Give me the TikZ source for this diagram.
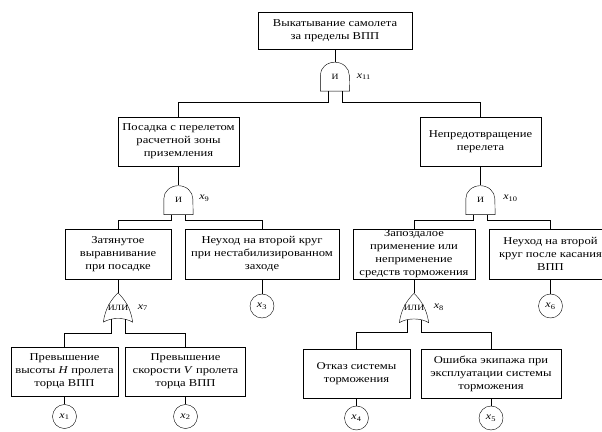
\documentclass[tikz,border=0pt]{standalone}
\usepackage{fontspec}
\setmainfont[FakeStretch=1.2]{Liberation Serif}
\usetikzlibrary{positioning}
\newcommand{\xv}[1]{\textit{x}\textsubscript{#1}}

\begin{document}
\begin{tikzpicture}[x=1pt,y=1pt,
	evt/.style={draw,rectangle,align=center,inner sep=1pt,minimum height=49pt,font=\fontsize{10.5}{13}\selectfont},
	gate/.style={minimum width=29pt,minimum height=29pt,inner sep=0pt,font=\fontsize{8}{9}\selectfont},
	leaf/.style={circle,draw,minimum size=24pt,inner sep=0pt,font=\fontsize{10}{12}\selectfont},
	lbl/.style={inner sep=1pt,font=\fontsize{10}{12}\selectfont}]
	\useasboundingbox (0,0) rectangle (602,431);

	% events
	\node[evt,minimum width=153.5pt,minimum height=37pt] at (335,400) (top) {Выкатывание самолета\\за пределы ВПП};
	\node[evt,minimum width=121pt] at (178.5,289.7) (pos) {Посадка с перелетом\\расчетной зоны\\приземления};
	\node[evt,minimum width=121pt] at (480.5,289.7) (nep) {Непредотвращение\\перелета};
	\node[evt,minimum width=106.5pt,minimum height=50pt] at (118,177) (zat) {Затянутое\\выравнивание\\при посадке};
	\node[evt,minimum width=154pt,minimum height=50pt] at (262,177) (neu3) {Неуход на второй круг\\при нестабилизированном\\заходе};
	\node[evt,minimum width=122pt,minimum height=50pt] at (414,177) (zap) {};
	\node[align=center,inner sep=0pt,font=\fontsize{10.5}{13}\selectfont] at (zap) (zapt) {Запоздалое\\применение или\\неприменение\\средств торможения};
	\node[evt,minimum width=122pt,minimum height=50pt] at (550.5,177) (neu6) {Неуход на второй\\круг после касания\\ВПП};
	\node[evt,minimum width=106.5pt] at (64.5,59.5) (prh) {Превышение\\высоты \textit{H} пролета\\торца ВПП};
	\node[evt,minimum width=120pt] at (185.5,59.5) (prv) {Превышение\\скорости \textit{V} пролета\\торца ВПП};
	\node[evt,minimum width=107pt] at (356.5,57.5) (otk) {Отказ системы\\торможения};
	\node[evt,minimum width=139.5pt] at (491,57.5) (osh) {Ошибка экипажа при\\эксплуатации системы\\торможения};

	% gates
	\node[gate] at (335,354.5) (g11) {И};
	\node[gate] at (178.5,231) (g9) {И};
	\node[gate] at (480.5,231) (g10) {И};
	\node[gate] at (118,123.5) (g7) {ИЛИ};
	\node[gate] at (414,123) (g8) {ИЛИ};
	\foreach \g in {g11,g9,g10}
		\draw (\g.south west) -- ++(0,16pt) arc[start angle=180,end angle=0,x radius=14.5pt,y radius=13pt] -- (\g.south east) -- cycle;
	\foreach \g in {g7,g8}
		\draw (\g.south west) .. controls +(2pt,14pt) and +(-7pt,-7pt) .. (\g.north) .. controls +(7pt,-7pt) and +(-2pt,14pt) .. (\g.south east) .. controls +(-8pt,5pt) and +(8pt,5pt) .. (\g.south west);
	\node[lbl,right=6pt of g11] (l11) {\xv{11}};
	\node[lbl,right=5pt of g9,yshift=2pt] (l9) {\xv{9}};
	\node[lbl,right=7pt of g10,yshift=2pt] (l10) {\xv{10}};
	\node[lbl,right=4pt of g7] (l7) {\xv{7}};
	\node[lbl,right=4pt of g8,yshift=1pt] (l8) {\xv{8}};

	% basic events
	\node[leaf] at (262,125) (x3) {\xv{3}};
	\node[leaf] at (550.5,125) (x6) {\xv{6}};
	\node[leaf] at (64.5,14.5) (x1) {\xv{1}};
	\node[leaf] at (185.5,14.5) (x2) {\xv{2}};
	\node[leaf] at (356.5,13) (x4) {\xv{4}};
	\node[leaf] at (491,13) (x5) {\xv{5}};

	% connections
	\draw (top.south) -- (g11.north);
	\draw ([xshift=-7pt]g11.south) -- ++(0,-11pt) -| (pos.north);
	\draw ([xshift=7pt]g11.south) -- ++(0,-11pt) -| (nep.north);
	\draw (pos.south) -- (g9.north);
	\draw (nep.south) -- (g10.north);
	\draw ([xshift=-7pt]g9.south) -- ++(0,-5.5pt) -| (zat.north);
	\draw ([xshift=7pt]g9.south) -- ++(0,-5.5pt) -| (neu3.north);
	\draw ([xshift=-7pt]g10.south) -- ++(0,-5.5pt) -| (zap.north);
	\draw ([xshift=7pt]g10.south) -- ++(0,-5.5pt) -| (neu6.north);
	\draw (zat.south) -- (g7.north);
	\draw (zap.south) -- (g8.north);
	\draw ([xshift=-7pt,yshift=3pt]g7.south) -- ++(0,-14pt) -| (prh.north);
	\draw ([xshift=7pt,yshift=3pt]g7.south) -- ++(0,-14pt) -| (prv.north);
	\draw ([xshift=-7pt,yshift=3pt]g8.south) -- ++(0,-13pt) -| (otk.north);
	\draw ([xshift=7pt,yshift=3pt]g8.south) -- ++(0,-13pt) -| (osh.north);
	\draw (neu3) -- (x3);
	\draw (neu6) -- (x6);
	\draw (prh) -- (x1);
	\draw (prv) -- (x2);
	\draw (otk) -- (x4);
	\draw (osh) -- (x5);
\end{tikzpicture}
\end{document}
